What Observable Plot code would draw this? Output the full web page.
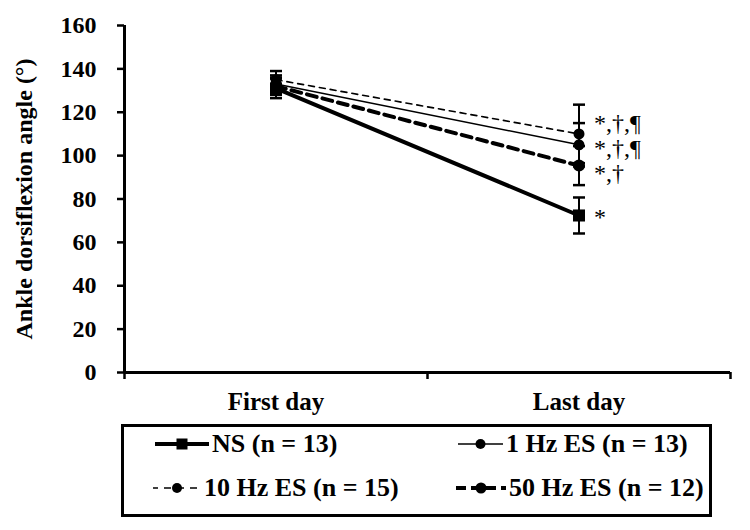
<!DOCTYPE html>
<html>
<head>
<meta charset="utf-8">
<script src="https://cdn.jsdelivr.net/npm/d3@7"></script>
<script src="https://cdn.jsdelivr.net/npm/@observablehq/plot@0.6"></script>
<style>
  html, body { margin: 0; padding: 0; background: #fff; }
  #wrap { position: relative; width: 750px; height: 530px; font-family: "Liberation Serif", "Times New Roman", serif; }
  #legend { position: absolute; left: 121px; top: 424px; width: 591px; height: 93px; box-sizing: border-box; border: 3px solid #000; }
  .item { position: absolute; display: flex; align-items: center; font-weight: bold; font-size: 26px; line-height: 26px; white-space: nowrap; }
</style>
</head>
<body>
<div id="wrap"><div id="chart"></div><div id="legend"></div></div>
<script>
const categories = ["First day", "Last day"];
const series = ["NS (n = 13)", "1 Hz ES (n = 13)", "10 Hz ES (n = 15)", "50 Hz ES (n = 12)"];
const firstDay = [131, 133, 135, 132];
const lastDay = [72.4, 105, 110, 95.4];
const firstSD = [4.5, 4, 4, 4];
const lastSD = [8.3, 10, 13.5, 9];
const annotations = ["*", "*,†,¶", "*,†,¶", "*,†"];
const annotY = [71.5, 103.3, 114.8, 91.7];
const yTicks = [0, 20, 40, 60, 80, 100, 120, 140, 160];

const styles = [
  {width: 4, dash: null, symbol: "square", r: 6.8},
  {width: 1.6, dash: null, symbol: "circle", r: 5.5},
  {width: 1.6, dash: "6,5", symbol: "circle", r: 5.5},
  {width: 4, dash: "10,6", symbol: "circle", r: 6}
];

const rows = [];
series.forEach((s, i) => {
  rows.push({series: s, si: i, day: categories[0], x: 0.5, v: firstDay[i], sd: firstSD[i]});
  rows.push({series: s, si: i, day: categories[1], x: 1.5, v: lastDay[i], sd: lastSD[i]});
});
const annotRows = series.map((s, i) => ({x: categories.indexOf("Last day") + 0.5, y: annotY[i], text: annotations[i]}));

const capSymbol = {draw(ctx) { ctx.moveTo(-6, 0); ctx.lineTo(6, 0); }};

const marks = [];
series.forEach((s, i) => {
  const d = rows.filter(r => r.si === i);
  marks.push(Plot.ruleX(d, {x: "x", y1: r => r.v - r.sd, y2: r => r.v + r.sd, stroke: "#000", strokeWidth: 2}));
  marks.push(Plot.dot(d, {x: "x", y: r => r.v - r.sd, symbol: capSymbol, stroke: "#000", fill: "none", strokeWidth: 2.5}));
  marks.push(Plot.dot(d, {x: "x", y: r => r.v + r.sd, symbol: capSymbol, stroke: "#000", fill: "none", strokeWidth: 2.5}));
});
series.forEach((s, i) => {
  const st = styles[i];
  const d = rows.filter(r => r.si === i);
  marks.push(Plot.line(d, {x: "x", y: "v", stroke: "#000", strokeWidth: st.width, strokeDasharray: st.dash || undefined}));
  marks.push(Plot.dot(d, {x: "x", y: "v", symbol: st.symbol, r: st.r, fill: "#000", stroke: "none"}));
});

const chart = Plot.plot({
  width: 750,
  height: 420,
  marginLeft: 124,
  marginRight: 20,
  marginTop: 25,
  marginBottom: 48,
  style: {fontFamily: "'Liberation Serif', 'Times New Roman', serif", fontSize: "24px", fontWeight: "bold", color: "#000", background: "#fff"},
  x: {domain: [0, 2], axis: null},
  y: {domain: [0, 160], axis: null},
  marks: [
    Plot.axisY({ticks: yTicks, tickSize: 7, tickPadding: 21, strokeWidth: 2.5, label: "Ankle dorsiflexion angle (°)", labelAnchor: "center", labelArrow: "none", labelOffset: 110, fontSize: 24, fontWeight: "bold"}),
    Plot.axisX({ticks: [0, 1, 2], tickSize: 7, tickFormat: () => "", strokeWidth: 2.5, label: null}),
    Plot.axisX({ticks: [0.5, 1.5], tickSize: 0, tickPadding: 20, tickFormat: v => categories[Math.floor(v)], label: null, fontSize: 25, fontWeight: "bold"}),
    Plot.ruleX([0], {stroke: "#000", strokeWidth: 3}),
    Plot.ruleY([0], {stroke: "#000", strokeWidth: 3}),
    ...marks,
    Plot.text(annotRows, {x: "x", y: "y", text: "text", dx: 15, textAnchor: "start", fontWeight: "normal", fontSize: 24, fill: "#000"})
  ]
});
document.getElementById("chart").appendChild(chart);

// Legend
const legendPos = [
  {left: 31, top: 4, w: 54},
  {left: 334, top: 4, w: 45},
  {left: 29, top: 48, w: 48},
  {left: 332, top: 48, w: 50}
];
const legend = document.getElementById("legend");
series.forEach((s, i) => {
  const st = styles[i];
  const p = legendPos[i];
  const item = document.createElement("div");
  item.className = "item";
  item.style.left = p.left + "px";
  item.style.top = p.top + "px";
  const w = p.w;
  const svg = d3.create("svg").attr("width", w).attr("height", 20).style("margin-right", "3px");
  svg.append("line").attr("x1", 0).attr("x2", w).attr("y1", 10).attr("y2", 10)
    .attr("stroke", "#000").attr("stroke-width", st.width)
    .attr("stroke-dasharray", st.dash ? (i === 2 ? "7,6" : "10,5") : null)
    .attr("stroke-dashoffset", i === 2 ? 2 : 0);
  if (st.symbol === "square") {
    svg.append("rect").attr("x", w / 2 - 5.5).attr("y", 4.5).attr("width", 11).attr("height", 11).attr("fill", "#000");
  } else {
    svg.append("circle").attr("cx", w / 2).attr("cy", 10).attr("r", st.r - 0.5).attr("fill", "#000");
  }
  item.appendChild(svg.node());
  const span = document.createElement("span");
  span.textContent = s;
  item.appendChild(span);
  legend.appendChild(item);
});
</script>
</body>
</html>
